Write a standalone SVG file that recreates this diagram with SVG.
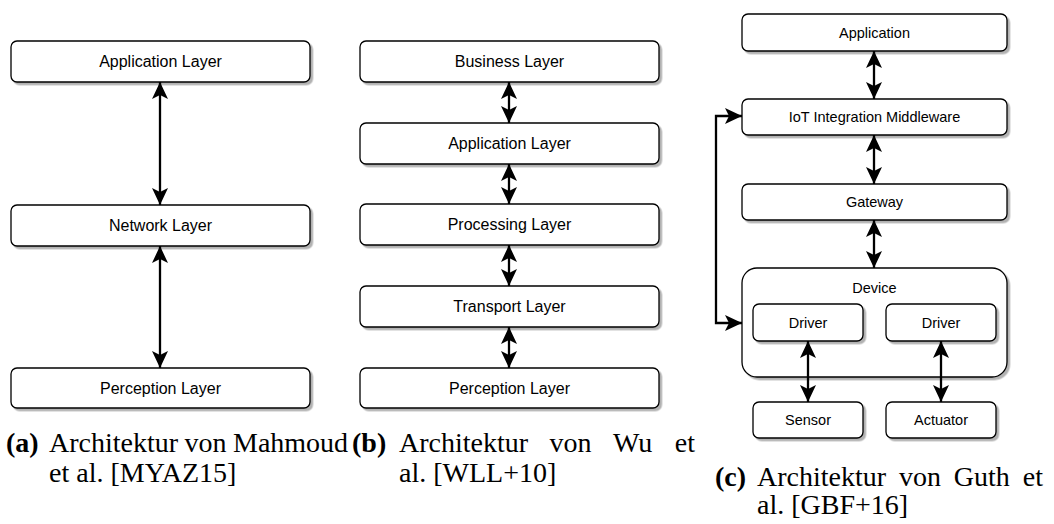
<svg xmlns="http://www.w3.org/2000/svg" width="1054" height="524" viewBox="0 0 1054 524">
<style>
.box{fill:#fff;stroke:#000;stroke-width:1.3;filter:url(#sh)}
.lbl{font-family:"Liberation Sans",Arial,sans-serif;font-size:16px;fill:#000;text-anchor:middle;dominant-baseline:central}
.lc{font-size:14.5px}
.con{stroke:#000;stroke-width:2.3;fill:none}
.cap{font-family:"Liberation Serif","Times New Roman",serif;font-size:28px;fill:#000}
.b{font-weight:bold}
</style>
<defs>
<filter id="sh" x="-5%" y="-10%" width="115%" height="130%">
<feDropShadow dx="2.5" dy="2.5" stdDeviation="0.6" flood-color="#000" flood-opacity="0.3"/>
</filter>
<marker id="ah" viewBox="-18 -9 19 18" refX="0" refY="0" markerWidth="19" markerHeight="18" markerUnits="userSpaceOnUse" orient="auto-start-reverse">
<path d="M0,0 L-17,-8 L-13,0 L-17,8 Z" fill="#000"/>
</marker>
</defs>

<g id="panel-a">
<g id="a-application"><rect class="box" x="11" y="41" width="299" height="41" rx="6"/><text class="lbl" x="160.5" y="61.5">Application Layer</text></g>
<g id="a-network"><rect class="box" x="11" y="205" width="299" height="41" rx="6"/><text class="lbl" x="160.5" y="225.5">Network Layer</text></g>
<g id="a-perception"><rect class="box" x="11" y="368" width="299" height="40" rx="6"/><text class="lbl" x="160.5" y="388">Perception Layer</text></g>
</g>

<g id="panel-b">
<g id="b-business"><rect class="box" x="360" y="41" width="299" height="41" rx="6"/><text class="lbl" x="509.5" y="61.5">Business Layer</text></g>
<g id="b-application"><rect class="box" x="360" y="123" width="299" height="41" rx="6"/><text class="lbl" x="509.5" y="143.5">Application Layer</text></g>
<g id="b-processing"><rect class="box" x="360" y="204" width="299" height="41" rx="6"/><text class="lbl" x="509.5" y="224.5">Processing Layer</text></g>
<g id="b-transport"><rect class="box" x="360" y="286" width="299" height="41" rx="6"/><text class="lbl" x="509.5" y="306.5">Transport Layer</text></g>
<g id="b-perception"><rect class="box" x="360" y="368" width="299" height="40" rx="6"/><text class="lbl" x="509.5" y="388">Perception Layer</text></g>
</g>

<g id="panel-c">
<g id="c-application"><rect class="box" x="742" y="14" width="265" height="37" rx="6"/><text class="lbl lc" x="874.5" y="32.5">Application</text></g>
<g id="c-middleware"><rect class="box" x="742" y="99" width="265" height="36" rx="6"/><text class="lbl lc" x="874.5" y="117">IoT Integration Middleware</text></g>
<g id="c-gateway"><rect class="box" x="742" y="184" width="265" height="36" rx="6"/><text class="lbl lc" x="874.5" y="202">Gateway</text></g>
<g id="c-device"><rect class="box" x="742" y="268" width="265" height="109" rx="15"/><text class="lbl lc" x="874.5" y="288">Device</text></g>
<g id="c-driver1"><rect class="box" x="753" y="304" width="110" height="37" rx="6"/><text class="lbl lc" x="808" y="322.5">Driver</text></g>
<g id="c-driver2"><rect class="box" x="886" y="304" width="110" height="37" rx="6"/><text class="lbl lc" x="941" y="322.5">Driver</text></g>
<g id="c-sensor"><rect class="box" x="753" y="402" width="110" height="36" rx="6"/><text class="lbl lc" x="808" y="420">Sensor</text></g>
<g id="c-actuator"><rect class="box" x="886" y="402" width="110" height="36" rx="6"/><text class="lbl lc" x="941" y="420">Actuator</text></g>
</g>

<g id="connectors">
<line class="con" x1="160" y1="82" x2="160" y2="205" marker-start="url(#ah)" marker-end="url(#ah)"/>
<line class="con" x1="160" y1="246" x2="160" y2="368" marker-start="url(#ah)" marker-end="url(#ah)"/>
<line class="con" x1="509" y1="82" x2="509" y2="123" marker-start="url(#ah)" marker-end="url(#ah)"/>
<line class="con" x1="509" y1="164" x2="509" y2="204" marker-start="url(#ah)" marker-end="url(#ah)"/>
<line class="con" x1="509" y1="245" x2="509" y2="286" marker-start="url(#ah)" marker-end="url(#ah)"/>
<line class="con" x1="509" y1="327" x2="509" y2="368" marker-start="url(#ah)" marker-end="url(#ah)"/>
<line class="con" x1="874" y1="51" x2="874" y2="99" marker-start="url(#ah)" marker-end="url(#ah)"/>
<line class="con" x1="874" y1="135" x2="874" y2="184" marker-start="url(#ah)" marker-end="url(#ah)"/>
<line class="con" x1="874" y1="220" x2="874" y2="268" marker-start="url(#ah)" marker-end="url(#ah)"/>
<polyline class="con" points="742,116 716,116 716,323 742,323" marker-start="url(#ah)" marker-end="url(#ah)"/>
<line class="con" x1="808" y1="341" x2="808" y2="402" marker-start="url(#ah)" marker-end="url(#ah)"/>
<line class="con" x1="941" y1="341" x2="941" y2="402" marker-start="url(#ah)" marker-end="url(#ah)"/>
</g>

<g id="captions">
<text class="cap" y="452"><tspan class="b" x="6">(a)</tspan><tspan x="49">Architektur</tspan><tspan x="184.5">von</tspan><tspan x="233">Mahmoud</tspan></text>
<text class="cap" x="49" y="482">et al. [MYAZ15]</text>
<text class="cap" y="452"><tspan class="b" x="352">(b)</tspan><tspan x="399">Architektur</tspan><tspan x="549.5">von</tspan><tspan x="613">Wu</tspan><tspan x="674.8">et</tspan></text>
<text class="cap" x="399" y="482">al. [WLL+10]</text>
<text class="cap" y="486"><tspan class="b" x="715">(c)</tspan><tspan x="757">Architektur</tspan><tspan x="898.9">von</tspan><tspan x="953.8">Guth</tspan><tspan x="1022.8">et</tspan></text>
<text class="cap" x="757" y="514">al. [GBF+16]</text>
</g>
</svg>
